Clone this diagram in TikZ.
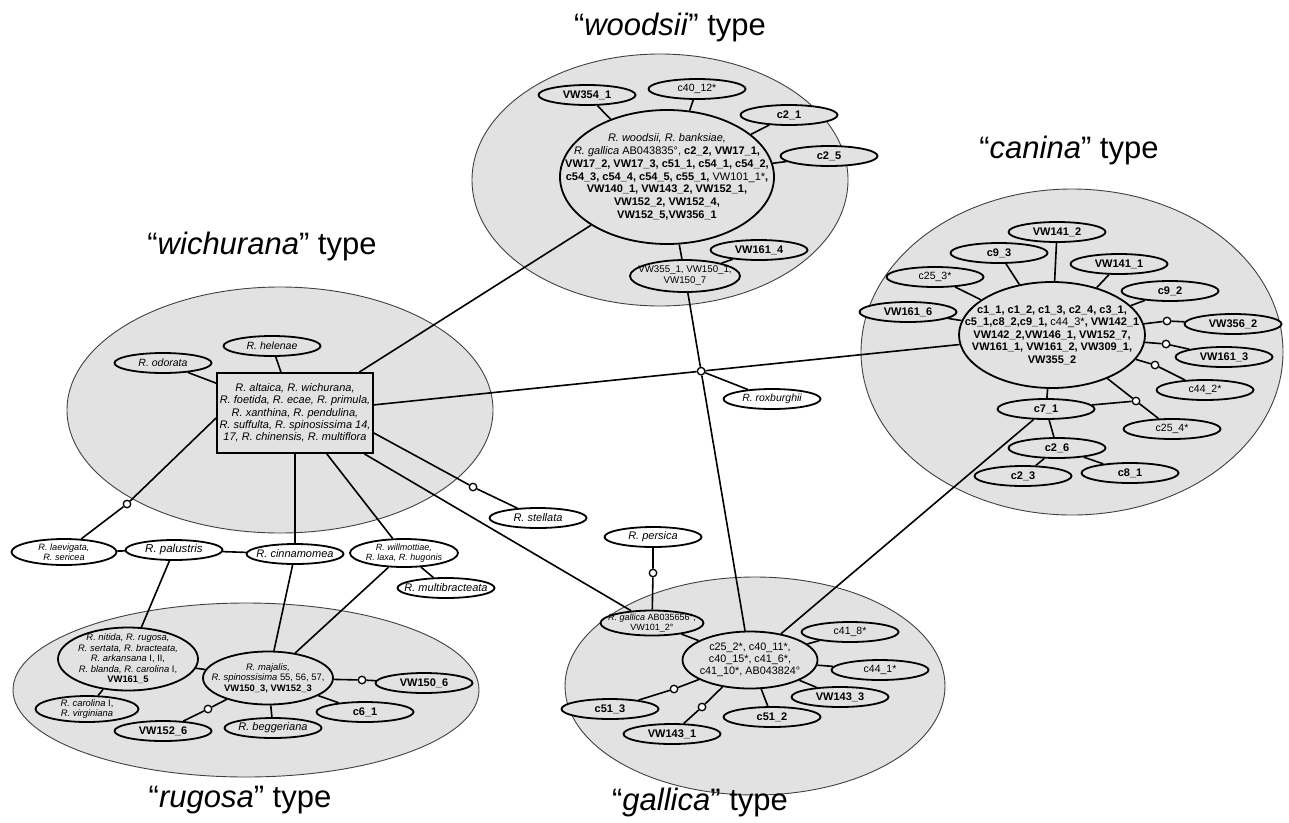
\documentclass[tikz,border=0pt]{standalone}
\usepackage{fontspec}
\setmainfont{Liberation Sans}
\usetikzlibrary{shapes.geometric}
\definecolor{grpfill}{RGB}{226,226,226}
\newcommand\Rsp[1]{{\mdseries\itshape #1}}
\newcommand\Rg[1]{{\mdseries\upshape #1}}
\newcommand\fsz[2]{\fontsize{#1}{#2}\selectfont}
\begin{document}
\begin{tikzpicture}[x=1pt,y=-1pt,
  grp/.style={draw=black!75, line width=0.9pt, fill=grpfill},
  nd/.style={ellipse, draw, line width=1.8pt, inner xsep=-80pt, inner ysep=-40pt, align=center, fill=grpfill, minimum width=97pt, minimum height=20pt},
  bl/.style={nd, font=\fsz{11}{12.8}\bfseries},
  rl/.style={nd, font=\fsz{10.5}{12}},
  il/.style={nd, font=\fsz{11}{12.8}\itshape},
  wt/.style={fill=white},
  dot/.style={circle, draw, line width=1.3pt, fill=white, minimum size=7.5pt, inner sep=0pt},
  con/.style={line width=1.6pt},
  ttl/.style={font=\fsz{31}{36}}]
\useasboundingbox (0,0) rectangle (1289,822);
% group ellipses
\draw[grp] (660,180) ellipse [x radius=188pt, y radius=126pt];
\draw[grp] (1072,352) ellipse [x radius=211pt, y radius=163pt];
\draw[grp] (280,410) ellipse [x radius=213pt, y radius=123pt];
\draw[grp] (246,690) ellipse [x radius=233pt, y radius=87pt];
\draw[grp] (755,686) ellipse [x radius=190pt, y radius=109pt];
% titles
\node[ttl] (t1) at (670,27) {“\textit{woodsii}” type};
\node[ttl] (t2) at (1069,150) {“\textit{canina}” type};
\node[ttl] (t3) at (262,246) {“\textit{wichurana}” type};
\node[ttl] (t4) at (240,800) {“\textit{rugosa}” type};
\node[ttl] (t5) at (700,802) {“\textit{gallica}” type};
% woodsii
\node[bl, minimum width=214pt, minimum height=134pt] (wc) at (667,177) {\Rsp{R. woodsii, R. banksiae,}\\ \Rsp{R. gallica} \Rg{AB043835°,} c2\_2, VW17\_1,\\ VW17\_2, VW17\_3, c51\_1, c54\_1, c54\_2,\\ c54\_3, c54\_4, c54\_5, c55\_1, \Rg{VW101\_1*},\\ VW140\_1, VW143\_2, VW152\_1,\\ VW152\_2, VW152\_4,\\ VW152\_5,VW356\_1};
\node[bl] (w1) at (587,95) {VW354\_1};
\node[rl] (w2) at (697,89) {c40\_12*};
\node[bl] (w3) at (789,115) {c2\_1};
\node[bl] (w4) at (829,156) {c2\_5};
\node[rl, font=\fsz{9.7}{11}, minimum width=110pt, minimum height=32pt] (w5) at (685,276) {VW355\_1, VW150\_1,\\ VW150\_7};
\node[bl] (w6) at (759,250) {VW161\_4};
% canina
\node[bl, font=\fsz{11}{12.5}\bfseries, minimum width=186pt, minimum height=106pt] (cc) at (1052,335) {c1\_1, c1\_2, c1\_3, c2\_4, c3\_1,\\ c5\_1,c8\_2,c9\_1, \Rg{c44\_3*}, VW142\_1\\ VW142\_2,VW146\_1, VW152\_7,\\ VW161\_1, VW161\_2, VW309\_1,\\ VW355\_2};
\node[bl] (k1) at (1057,232) {VW141\_2};
\node[bl] (k2) at (999,253) {c9\_3};
\node[bl] (k3) at (1119,264) {VW141\_1};
\node[rl] (k4) at (935,277) {c25\_3*};
\node[bl] (k5) at (1170,291) {c9\_2};
\node[bl] (k6) at (908,312) {VW161\_6};
\node[bl] (k7) at (1233,324) {VW356\_2};
\node[bl] (k8) at (1224,357) {VW161\_3};
\node[rl] (k9) at (1205,390) {c44\_2*};
\node[rl] (k10) at (1172,429) {c25\_4*};
\node[bl] (k11) at (1046,409) {c7\_1};
\node[bl] (k12) at (1057,448) {c2\_6};
\node[bl] (k13) at (1023,476) {c2\_3};
\node[bl] (k14) at (1130,473) {c8\_1};
% wichurana
\node[draw, line width=1.8pt, fill=grpfill, minimum width=156pt, minimum height=80pt, inner sep=0pt, align=center, font=\fsz{11}{12.3}\itshape] (box) at (295,413) {R. altaica, R. wichurana,\\ R. foetida, R. ecae, R. primula,\\ R. xanthina, R. pendulina,\\ R. suffulta, R. spinosissima 14,\\ 17, R. chinensis, R. multiflora};
\node[il, font=\fsz{10.5}{12}\itshape] (h1) at (272,346) {R. helenae};
\node[il, font=\fsz{10.5}{12}\itshape] (h2) at (163,363) {R. odorata};
% between groups
\node[il, wt, font=\fsz{9.2}{10.3}\itshape, minimum width=105pt, minimum height=26pt] (lae) at (64,552) {R. laevigata,\\ R. sericea};
\node[il, wt, font=\fsz{11.5}{13}\itshape] (pal) at (174,550) {R. palustris};
\node[il, wt, font=\fsz{11}{13}\itshape] (cin) at (295,554) {R. cinnamomea};
\node[il, wt, font=\fsz{9}{10.5}\itshape, minimum width=108pt, minimum height=28pt] (wil) at (404,553) {R. willmottiae,\\ R. laxa, R. hugonis};
\node[il, wt] (mul) at (446,588) {R. multibracteata};
\node[il, wt] (ste) at (538,518) {R. stellata};
\node[il, wt] (per) at (653,537) {R. persica};
\node[il, wt, font=\fsz{10.5}{12}\itshape] (rox) at (772,399) {R. roxburghii};
% rugosa
\node[bl, font=\fsz{9.4}{10.5}\bfseries, minimum width=140pt, minimum height=63pt] (nit) at (128,659) {\Rsp{R. nitida, R. rugosa,}\\ \Rsp{R. sertata, R. bracteata,}\\ \Rsp{R. arkansana} \Rg{I, II,}\\ \Rsp{R. blanda, R. carolina} \Rg{I,}\\ VW161\_5};
\node[bl, font=\fsz{9.4}{10.5}\bfseries, minimum width=130pt, minimum height=53pt] (maj) at (268,678) {\Rsp{R. majalis,}\\ \Rsp{R. spinossisima} \Rg{55, 56, 57,}\\ VW150\_3, VW152\_3};
\node[il, font=\fsz{9.4}{10.5}\itshape, minimum width=103pt, minimum height=26pt] (car) at (87,709) {R. carolina \Rg{I,}\\ R. virginiana};
\node[bl] (r1) at (163,731) {VW152\_6};
\node[il] (r2) at (273,728) {R. beggeriana};
\node[bl] (r3) at (365,712) {c6\_1};
\node[bl] (r4) at (424,683) {VW150\_6};
% gallica
\node[rl, font=\fsz{10.8}{12}, minimum width=135pt, minimum height=57pt] (gc) at (750,660) {c25\_2*, c40\_11*,\\ c40\_15*, c41\_6*,\\ c41\_10*, AB043824°};
\node[rl, font=\fsz{9}{10.5}, minimum width=103pt, minimum height=25pt] (gab) at (652,623) {\Rsp{R. gallica} AB035656°,\\ VW101\_2°};
\node[rl] (g1) at (850,632) {c41\_8*};
\node[rl] (g2) at (880,670) {c44\_1*};
\node[bl] (g3) at (840,697) {VW143\_3};
\node[bl] (g4) at (772,717) {c51\_2};
\node[bl] (g5) at (672,734) {VW143\_1};
\node[bl] (g6) at (610,709) {c51\_3};
% junction dots
\coordinate (m1c) at (intersection of box.center--cc.center and w5.center--gc.center);
\node[dot] (m1) at (m1c) {};
\node[dot] (m2) at (1136,401) {};
\node[dot] (d1) at (1167,321) {};
\node[dot] (d2) at (1166,344) {};
\node[dot] (d3) at (1155,365) {};
\node[dot] (d4) at (127,504) {};
\node[dot] (d5) at (473,487) {};
\node[dot] (d6) at (208,709) {};
\node[dot] (d7) at (362,680) {};
\node[dot] (d8) at (653,573) {};
\node[dot] (d9) at (702,707) {};
\node[dot] (d10) at (674,689) {};
% connectors woodsii
\draw[con] (wc) -- (w1);
\draw[con] (wc) -- (w2);
\draw[con] (wc) -- (w3);
\draw[con] (wc) -- (w4);
\draw[con] (wc) -- (w5);
\draw[con] (w5) -- (w6);
\draw[con] (w5) -- (m1);
\draw[con] (m1) -- (gc);
\draw[con] (box) -- (m1);
\draw[con] (m1) -- (cc);
\draw[con] (m1) -- (rox);
\draw[con] (box) -- (wc);
% canina
\draw[con] (cc) -- (k1);
\draw[con] (cc) -- (k2);
\draw[con] (cc) -- (k3);
\draw[con] (cc) -- (k4);
\draw[con] (cc) -- (k5);
\draw[con] (cc) -- (k6);
\draw[con] (cc) -- (d1) -- (k7);
\draw[con] (cc) -- (d2) -- (k8);
\draw[con] (cc) -- (d3) -- (k9);
\draw[con] (cc) -- (m2) -- (k10);
\draw[con] (k11) -- (m2);
\draw[con] (cc) -- (k11);
\draw[con] (k11) -- (k12);
\draw[con] (k12) -- (k13);
\draw[con] (k12) -- (k14);
\draw[con] (k11) -- (gc);
% wichurana
\draw[con] (box) -- (h1);
\draw[con] (box) -- (h2);
\draw[con] ([yshift=-5pt]box.west) -- (d4) -- (lae);
\draw[con] (box) -- (cin);
\draw[con] (box) -- (wil);
\draw[con] ([yshift=-20pt]box.east) -- (d5) -- (ste);
\draw[con] (box) -- (gab);
\draw[con] (lae) -- (pal);
\draw[con] (pal) -- (cin);
\draw[con] (wil) -- (mul);
\draw[con] (pal) -- (nit);
\draw[con] (cin) -- (maj);
\draw[con] (wil) -- (maj);
% rugosa
\draw[con] (nit) -- (maj);
\draw[con] (nit) -- (car);
\draw[con] (maj) -- (d6) -- (r1);
\draw[con] (maj) -- (r2);
\draw[con] (maj) -- (r3);
\draw[con] (maj) -- (d7) -- (r4);
% gallica
\draw[con] (gc) -- (gab);
\draw[con] (per) -- (d8) -- (gab);
\draw[con] (gc) -- (g1);
\draw[con] (gc) -- (g2);
\draw[con] (gc) -- (g3);
\draw[con] (gc) -- (g4);
\draw[con] (gc) -- (d9) -- (g5);
\draw[con] (gc) -- (d10) -- (g6);
\end{tikzpicture}
\end{document}
